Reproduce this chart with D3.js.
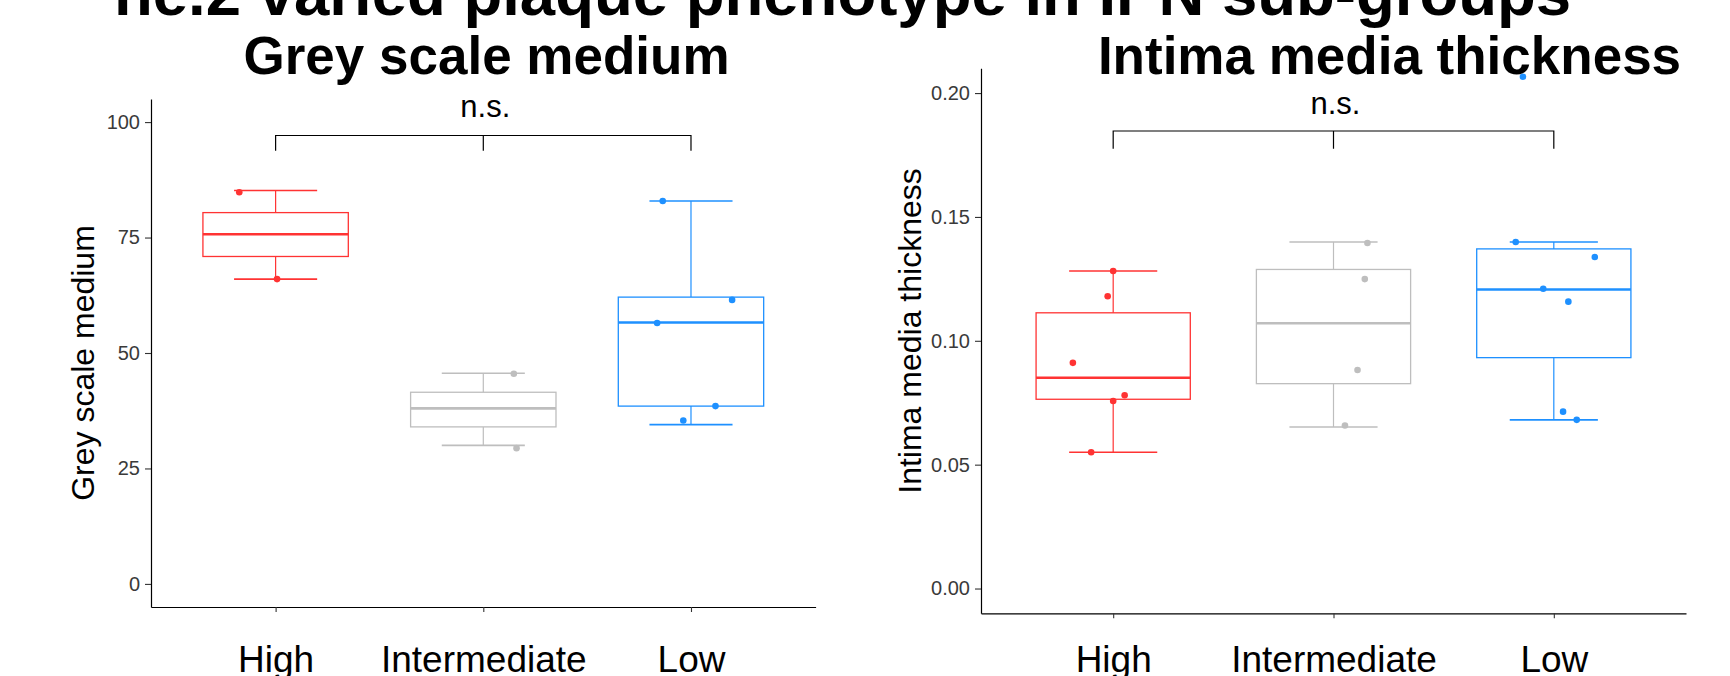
<!DOCTYPE html>
<html>

<head>
    <meta charset="utf-8">
    <style>
        body {
            margin: 0;
            background: #fff;
        }

        svg {
            display: block;
            font-family: "Liberation Sans", Arial, sans-serif;
        }

        .axis .domain {
            stroke: #000;
            stroke-width: 1.2px;
        }

        .axis .tick line {
            stroke: #333;
            stroke-width: 1.1px;
        }

        .y .tick text {
            font-size: 20px;
            fill: #3a3a3a;
        }

        .x .tick text {
            font-size: 37px;
            fill: #000;
        }
    </style>
</head>

<body>
    <svg width="1730" height="676"></svg>

    <script src="https://d3js.org/d3.v7.min.js"></script>
    <script>
        // categories on both panels
        const groups = ["High", "Intermediate", "Low"];
        const groupColors = { High: "#FF3333", Intermediate: "#BEBEBE", Low: "#1E90FF" };

        // box stats for each group: lower whisker, Q1, median, Q3, upper whisker
        const greyScaleBoxes = [
            [66.0, 70.9, 75.7, 80.4, 85.2],
            [30.0, 34.0, 38.0, 41.5, 45.6],
            [34.5, 38.5, 56.6, 62.1, 82.9]
        ];
        // jittered points (group, jitter in category units, value)
        const greyScaleGroup = ["High", "High", "Intermediate", "Intermediate", "Low", "Low", "Low", "Low", "Low"];
        const greyScaleJitter = [-0.175, 0.007, 0.147, 0.16, -0.136, 0.198, -0.163, 0.118, -0.037];
        const greyScaleValues = [84.8, 66.0, 45.5, 29.4, 82.9, 61.5, 56.5, 38.5, 35.4];
        const greyScaleTicks = [0, 25, 50, 75, 100];

        const imtBoxes = [
            [0.0550, 0.0764, 0.0851, 0.1113, 0.1282],
            [0.0652, 0.0827, 0.1071, 0.1288, 0.1399],
            [0.0681, 0.0932, 0.1207, 0.1371, 0.1399]
        ];
        const imtGroup = ["High", "High", "High", "High", "High", "High",
            "Intermediate", "Intermediate", "Intermediate", "Intermediate",
            "Low", "Low", "Low", "Low", "Low", "Low", "Low"];
        const imtJitter = [0.0, -0.025, -0.183, 0.052, 0.0, -0.1,
            0.154, 0.142, 0.109, 0.052,
            -0.173, 0.186, -0.048, 0.066, 0.042, 0.104, -0.14];
        const imtValues = [0.1282, 0.118, 0.0911, 0.078, 0.0757, 0.055,
            0.1395, 0.1249, 0.0882, 0.0658,
            0.1399, 0.1338, 0.121, 0.1158, 0.0714, 0.0681, 0.2066];
        const imtTicks = [0, 0.05, 0.10, 0.15, 0.20];

        // comparison bracket: height and tip length in data units
        const greyScaleBracket = [97.1, 3.3];
        const imtBracket = [0.1847, 0.0072];

        let svg = d3.select("svg");

        function drawPanel(p) {
            let x = d3.scalePoint()
                .domain(groups)
                .range([p.left, p.right])
                .padding(0.6);
            let step = x.step();

            let y = d3.scaleLinear()
                .domain(p.domain)
                .range([p.bottom, p.top]);

            let g = svg.append("g");

            // boxes
            let boxes = g.selectAll(".box")
                .data(p.boxes)
                .join("g")
                .attr("class", "box")
                .style("stroke", (d, i) => groupColors[groups[i]])
                .style("fill", "none");

            boxes.append("line") // upper whisker
                .attr("x1", (d, i) => x(groups[i])).attr("x2", (d, i) => x(groups[i]))
                .attr("y1", d => y(d[3])).attr("y2", d => y(d[4]))
                .style("stroke-width", 1.2);
            boxes.append("line") // lower whisker
                .attr("x1", (d, i) => x(groups[i])).attr("x2", (d, i) => x(groups[i]))
                .attr("y1", d => y(d[1])).attr("y2", d => y(d[0]))
                .style("stroke-width", 1.2);
            boxes.append("line") // caps
                .attr("x1", (d, i) => x(groups[i]) - step * 0.2).attr("x2", (d, i) => x(groups[i]) + step * 0.2)
                .attr("y1", d => y(d[4])).attr("y2", d => y(d[4]))
                .style("stroke-width", 1.6);
            boxes.append("line")
                .attr("x1", (d, i) => x(groups[i]) - step * 0.2).attr("x2", (d, i) => x(groups[i]) + step * 0.2)
                .attr("y1", d => y(d[0])).attr("y2", d => y(d[0]))
                .style("stroke-width", 1.6);
            boxes.append("rect")
                .attr("x", (d, i) => x(groups[i]) - step * 0.35)
                .attr("width", step * 0.7)
                .attr("y", d => y(d[3]))
                .attr("height", d => y(d[1]) - y(d[3]))
                .style("stroke-width", 1.3);
            boxes.append("line") // median
                .attr("x1", (d, i) => x(groups[i]) - step * 0.35).attr("x2", (d, i) => x(groups[i]) + step * 0.35)
                .attr("y1", d => y(d[2])).attr("y2", d => y(d[2]))
                .style("stroke-width", 2.6);

            // jittered points
            g.selectAll(".pt")
                .data(p.values)
                .join("circle")
                .attr("class", "pt")
                .attr("cx", (d, i) => x(p.pointGroup[i]) + p.jitter[i] * step)
                .attr("cy", d => y(d))
                .attr("r", 3.3)
                .style("fill", (d, i) => groupColors[p.pointGroup[i]]);

            // axes
            g.append("g")
                .attr("class", "y axis")
                .attr("transform", `translate(${p.left},0)`)
                .call(d3.axisLeft(y).tickValues(p.ticks).tickSize(6).tickSizeOuter(0)
                    .tickPadding(5).tickFormat(p.format));

            g.append("g")
                .attr("class", "x axis")
                .attr("transform", `translate(0,${p.bottom})`)
                .call(d3.axisBottom(x).tickSize(5).tickSizeOuter(0)
                    .tickPadding(672 - p.bottom - 5 - 26.3));

            // bracket + label
            let b = p.bracket;
            let bx = groups.map(d => x(d));
            g.append("path")
                .attr("d", `M${bx[0]},${y(b[0] - b[1])}V${y(b[0])}H${bx[2]}V${y(b[0] - b[1])}` +
                    `M${bx[1]},${y(b[0])}V${y(b[0] - b[1])}`)
                .style("fill", "none")
                .style("stroke", "#000")
                .style("stroke-width", 1.2);

            g.append("text")
                .attr("x", bx[1] + 2)
                .attr("y", p.nsY)
                .attr("text-anchor", "middle")
                .style("font-size", "31px")
                .text("n.s.");

            // y title
            g.append("text")
                .attr("transform", `translate(${p.ylabX},${p.ylabY}) rotate(-90)`)
                .attr("text-anchor", "middle")
                .style("font-size", "32px")
                .text(p.ylab);

            // panel title
            g.append("text")
                .attr("x", p.titleX)
                .attr("y", 74)
                .attr("text-anchor", "middle")
                .style("font-size", "53px")
                .style("font-weight", "bold")
                .text(p.title);
        }

        drawPanel({
            left: 151, right: 815.6, top: 99, bottom: 607,
            domain: [-5, 105],
            boxes: greyScaleBoxes,
            pointGroup: greyScaleGroup, jitter: greyScaleJitter, values: greyScaleValues,
            ticks: greyScaleTicks, format: d3.format("d"),
            bracket: greyScaleBracket, nsY: 116.5,
            ylab: "Grey scale medium", ylabX: 94, ylabY: 363,
            title: "Grey scale medium", titleX: 486.5
        });

        drawPanel({
            left: 981, right: 1686, top: 68.3, bottom: 613.3,
            domain: [-0.01, 0.21],
            boxes: imtBoxes,
            pointGroup: imtGroup, jitter: imtJitter, values: imtValues,
            ticks: imtTicks, format: d3.format(".2f"),
            bracket: imtBracket, nsY: 113.5,
            ylab: "Intima media thickness", ylabX: 921, ylabY: 331,
            title: "Intima media thickness", titleX: 1389.5
        });

        // overall title, cut off at the top edge
        svg.append("text")
            .attr("x", 114)
            .attr("y", 15)
            .style("font-size", "63.5px")
            .style("font-weight", "bold")
            .text("ne.2 varied plaque phenotype in IPN sub-groups");
    </script>
</body>

</html>
